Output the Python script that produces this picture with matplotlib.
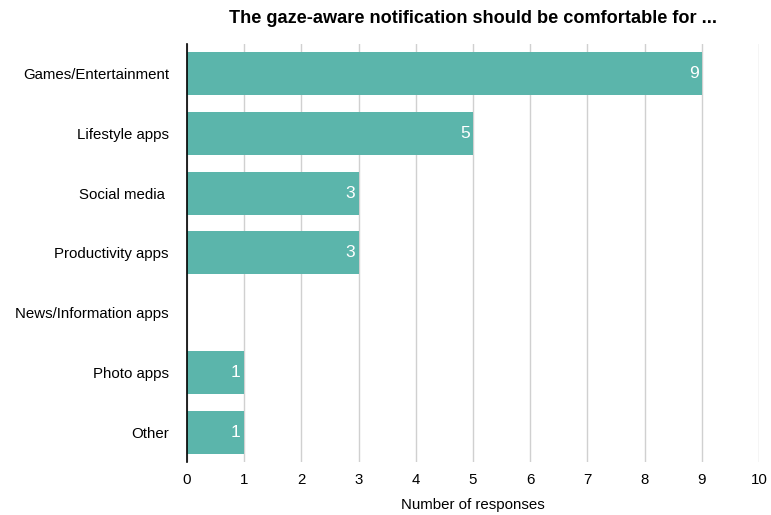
import matplotlib
matplotlib.use("Agg")
import matplotlib.pyplot as plt

categories = [
    "Games/Entertainment",
    "Lifestyle apps",
    "Social media ",
    "Productivity apps",
    "News/Information apps",
    "Photo apps",
    "Other",
]
responses = [9, 5, 3, 3, 0, 1, 1]
x_ticks = list(range(0, 11))

plt.rcParams["font.family"] = ["Liberation Sans", "DejaVu Sans"]

fig = plt.figure(figsize=(7.71, 5.15), dpi=100)
ax = fig.add_axes([0.2425, 0.1029, 0.742, 0.8117])

y = list(range(len(categories)))
bars = ax.barh(y, responses, height=0.72, color="#5BB5AB", zorder=3)

for bar, val in zip(bars, responses):
    if val > 0:
        ax.text(bar.get_width() - 0.06, bar.get_y() + bar.get_height() / 2,
                str(val), color="white", fontsize=12.5, ha="right", va="center", zorder=4)

ax.set_xlim(0, 10)
ax.set_ylim(len(categories) - 0.5, -0.5)
ax.set_xticks(x_ticks)
ax.set_yticks(y)
ax.set_yticklabels(categories, fontsize=10.8)
ax.tick_params(axis="x", labelsize=10.8, length=0, pad=8)
ax.tick_params(axis="y", length=0, pad=13)
ax.grid(axis="x", color="#d0d0d0", lw=1, zorder=0)

for side in ["top", "right", "bottom"]:
    ax.spines[side].set_visible(False)
ax.spines["left"].set_color("black")
ax.spines["left"].set_linewidth(1.2)
ax.spines["left"].set_zorder(5)

ax.set_xlabel("Number of responses", fontsize=10.8, labelpad=8)
ax.set_title("The gaze-aware notification should be comfortable for ...",
             fontsize=13.1, fontweight="bold", pad=15)

plt.savefig("out.png", dpi=100)
plt.close()
